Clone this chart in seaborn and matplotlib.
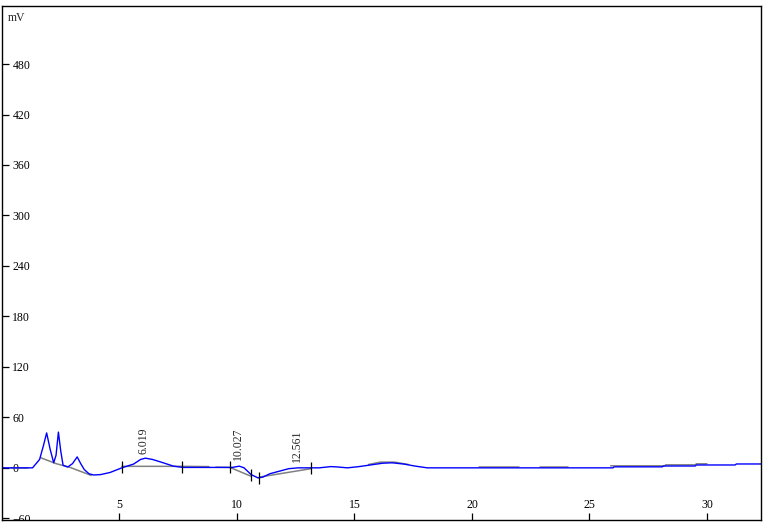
import pandas as pd
import seaborn as sns
import matplotlib
matplotlib.use('Agg')
import matplotlib.pyplot as plt

sns.set_theme(style='white')
plt.rcParams['font.family'] = ['Liberation Serif', 'DejaVu Serif']

# 色谱信号（蓝线）：保留时间 min / 响应 mV
trace_t = [0.0, 1.3, 1.45, 1.6, 1.75, 1.9, 2.05, 2.2, 2.3, 2.4, 2.5, 2.6, 2.8, 3.0,
           3.2, 3.35, 3.5, 3.7, 3.9, 4.2, 4.6, 5.1, 5.6, 5.9, 6.1, 6.4, 6.75, 7.3,
           7.7, 8.5, 9.5, 9.8, 10.1, 10.3, 10.6, 10.9, 11.1, 11.4, 11.8, 12.2, 12.6,
           13.5, 14.0, 14.3, 14.7, 15.2, 15.7, 16.2, 16.6, 17.1, 17.6, 18.1, 26.0,
           26.05, 28.1, 28.15, 29.5, 29.55, 31.2, 31.25, 32.3]
trace_mv = [0, 0, 5, 10, 25, 41.5, 22, 6, 15, 42.5, 20, 3, 1, 5,
            13, 5, -2, -7, -8.5, -8, -5.5, 0, 4.5, 10, 11.5, 10, 7, 2,
            0.5, 0.5, 0.5, 0.5, 2, 0, -8, -12, -11, -7, -4, -1, 0,
            0, 1.5, 1, 0, 1.5, 3.5, 5.5, 6, 4.5, 2, 0, 0,
            1.2, 1.2, 2.2, 2.2, 3.4, 3.4, 4.6, 4.6]

# 积分基线（灰线）
base_seg = [0, 0,
            1, 1, 1, 1,
            2, 2, 2,
            3, 3, 3,
            4, 4,
            5, 5, 5, 5,
            6, 6, 7, 7,
            8, 8, 8, 8, 8, 8]
base_t = [0.4, 1.1,
          1.65, 2.3, 2.9, 3.8,
          5.1, 7.7, 8.8,
          9.1, 9.7, 10.6,
          10.95, 13.15,
          15.6, 16.1, 16.7, 17.3,
          20.3, 22.0, 22.9, 24.1,
          25.9, 28.2, 28.25, 29.5, 29.55, 30.0]
base_mv = [0, 0,
           12, 5, 0.5, -9,
           1.8, 1.8, 1.5,
           0.8, 0.5, -10,
           -11, -1,
           4, 6.8, 6.8, 4,
           1.5, 1.5, 1.5, 1.5,
           2.4, 2.4, 3.6, 3.6, 4.8, 4.8]

# 积分切分点
cut_t = [5.1, 7.65, 9.7, 10.6, 10.95, 13.15]
cut_mv = [0.5, 1, 0.5, -9, -11.5, -0.5]

# 峰保留时间标注
peak_rt = [6.019, 10.027, 12.561]
peak_lbl = ['6.019', '10.027', '12.561']
peak_lbl_y = [17, 9.5, 7.5]

y_ticks = [-60, 0, 60, 120, 180, 240, 300, 360, 420, 480]
x_ticks = [5, 10, 15, 20, 25, 30]

trace_df = pd.DataFrame({'t': trace_t, 'mv': trace_mv})
base_df = pd.DataFrame({'seg': base_seg, 't': base_t, 'mv': base_mv})

fig = plt.figure(figsize=(7.63, 5.23), dpi=100)
ax = fig.add_axes([2 / 763, 3 / 523, 759 / 763, 514 / 523])

sns.lineplot(data=base_df, x='t', y='mv', units='seg', estimator=None, sort=False,
             color='#808080', linewidth=1.1, ax=ax)
sns.lineplot(data=trace_df, x='t', y='mv', estimator=None, sort=False,
             color='#0000ff', linewidth=1.0, ax=ax)
ax.scatter(cut_t, cut_mv, marker='|', s=70, color='black', linewidths=0.9, zorder=5)

for rt, lbl, ly in zip(peak_rt, peak_lbl, peak_lbl_y):
    ax.text(rt, ly, lbl, rotation=90, ha='center', va='bottom', fontsize=8.5)

ax.text(0.008, 0.988, 'mV', transform=ax.transAxes, ha='left', va='top', fontsize=8.5)

ax.set_xlim(0, 32.3)
ax.set_ylim(-62, 549)
ax.set_xticks(x_ticks)
ax.set_yticks(y_ticks)
ax.set_xlabel('')
ax.set_ylabel('')

ax.tick_params(axis='y', left=True, direction='in', length=5, width=0.9, pad=-7.5,
               labelsize=8.5, colors='black')
ax.tick_params(axis='x', bottom=True, direction='in', length=5, width=0.9, pad=-6.5,
               labelsize=8.5, colors='black')
for lab in ax.get_yticklabels():
    lab.set_horizontalalignment('left')
    lab.set_clip_box(ax.bbox)
    lab.set_clip_on(True)
for lab in ax.get_xticklabels():
    lab.set_verticalalignment('bottom')

for sp in ax.spines.values():
    sp.set_color('black')
    sp.set_linewidth(1.0)

fig.savefig('out.png', dpi=100, facecolor='white')
